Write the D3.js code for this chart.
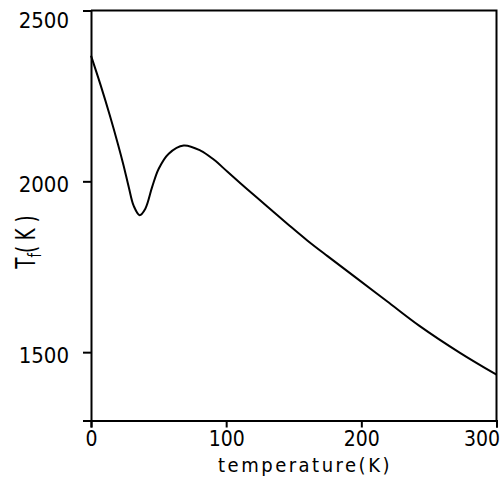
<!DOCTYPE html>
<html>
<head>
<meta charset="utf-8">
<script src="https://cdn.jsdelivr.net/npm/d3@7"></script>
<style>
  body { margin: 0; background: #fff; }
  svg text { font-family: "Liberation Sans Narrow", "DejaVu Sans Condensed", sans-serif; fill: #000; }
</style>
</head>
<body>
<div id="chart"></div>
<script>
// values
const temperature = [0, 7, 14, 20, 24, 28, 31.6, 36, 40.2, 45.2, 50.1, 57.5, 68.6, 81, 91, 101, 115.6, 130.4, 145.2, 160, 175, 195, 219, 243, 273, 300]
const tf = [2368, 2283, 2192, 2108, 2048, 1982, 1928, 1901, 1920, 1983, 2037, 2081, 2105, 2090, 2063, 2028, 1977, 1926, 1876, 1827, 1781, 1721, 1649, 1577, 1498, 1434]
const xTicks = [0, 100, 200, 300]
const yTicks = [1500, 2000, 2500]

const width = 501
const height = 478
const plotLeft = 91, plotRight = 496.5, plotTop = 10.5, plotBottom = 420.5

const svg = d3.select("#chart").append("svg")
    .attr("width", width)
    .attr("height", height)

const x = d3.scaleLinear().domain([0, 300]).range([plotLeft, plotRight])
const y = d3.scaleLinear().domain([1300, 2500]).range([plotBottom, plotTop])

// frame (top + right)
svg.append("path")
    .attr("d", `M${plotLeft},${plotTop}H${plotRight}V${plotBottom}`)
    .attr("fill", "none")
    .attr("stroke", "#000")
    .attr("stroke-width", 2)

const yAxis = svg.append("g")
    .attr("transform", `translate(${plotLeft},0)`)
    .call(d3.axisLeft(y).tickValues(yTicks).tickSize(8).tickPadding(14).tickFormat(d3.format("d")))
yAxis.selectAll("text")
    .style("font-size", "22px")
    .attr("dy", d => d === 2500 ? "0.75em" : "0.45em")

const xAxis = svg.append("g")
    .attr("transform", `translate(0,${plotBottom})`)
    .call(d3.axisBottom(x).tickValues(xTicks).tickSize(7).tickPadding(4).tickFormat(d3.format("d")))
xAxis.selectAll("text")
    .style("font-size", "21px")
    .attr("text-anchor", d => d === 300 ? "end" : "middle")
    .attr("x", d => d === 300 ? 3 : 0)

svg.selectAll(".domain").attr("stroke-width", 2)
svg.selectAll(".tick line").attr("stroke-width", 2)

// curve
svg.append("path")
    .datum(temperature.map((t, i) => [t, tf[i]]))
    .attr("fill", "none")
    .attr("stroke", "#000")
    .attr("stroke-width", 2)
    .attr("d", d3.line().x(d => x(d[0])).y(d => y(d[1])).curve(d3.curveCatmullRom.alpha(0.5)))

// axis titles
svg.append("text")
    .attr("x", 305)
    .attr("y", 472)
    .attr("text-anchor", "middle")
    .style("font-size", "20px")
    .style("letter-spacing", "2.5px")
    .text("temperature(K)")

// tall, narrow lettering like the original
const yt = svg.append("text")
    .attr("transform", "translate(35,242) rotate(-90) scale(0.78,1)")
    .attr("text-anchor", "middle")
    .style("font-size", "26px")
yt.append("tspan").text("T")
yt.append("tspan").attr("dy", 6).style("font-size", "18px").text("f")
yt.append("tspan").attr("dy", -6).text("( K )")
</script>
</body>
</html>
